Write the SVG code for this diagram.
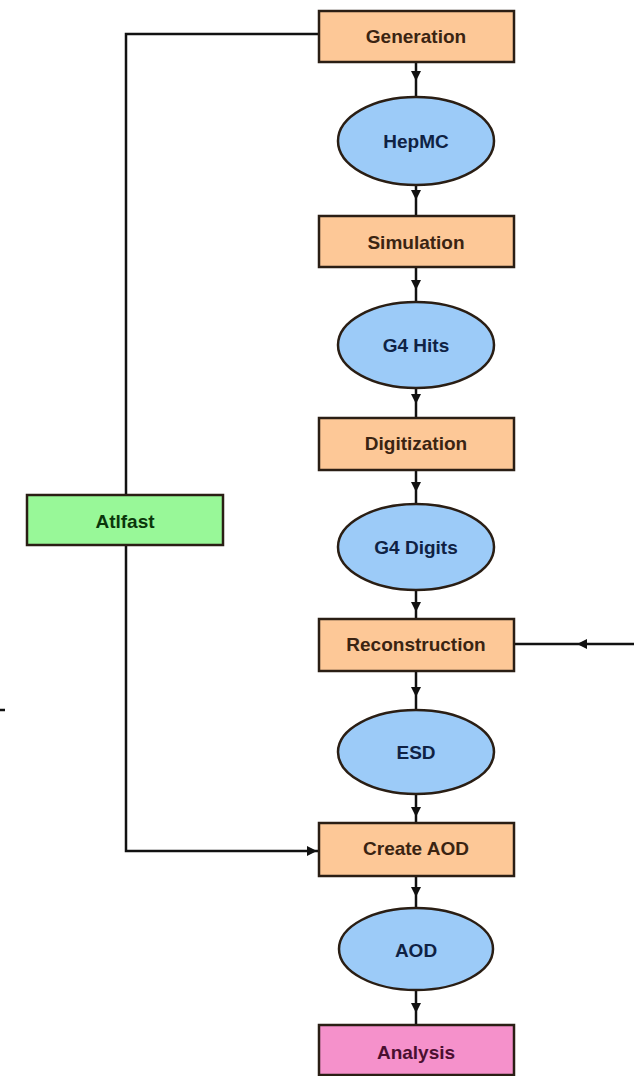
<svg xmlns="http://www.w3.org/2000/svg" width="634" height="1076" viewBox="0 0 634 1076">
<defs>
<marker id="ah" viewBox="0 0 10 10" refX="10" refY="5" markerWidth="12" markerHeight="10" markerUnits="userSpaceOnUse" orient="auto">
<path d="M0,0 L10,5 L0,10 z" fill="#111"/>
</marker>
<style>
.box{stroke:#2a1e14;stroke-width:2.5}
.step{fill:#FDC897}
.data{fill:#9CCBF8}
.fast{fill:#98F898}
.ana{fill:#F591CB}
text{font-family:"Liberation Sans",Arial,sans-serif;font-weight:bold;font-size:19px;text-anchor:middle;dominant-baseline:central}
.ts{fill:#3a2412}
.td{fill:#0f2244}
.tf{fill:#0b360b}
.ta{fill:#4a0f30}
.c{fill:none;stroke:#111;stroke-width:2.5;marker-mid:url(#ah)}
.p{fill:none;stroke:#111;stroke-width:2.5}
</style>
</defs>
<rect width="634" height="1076" fill="#fff"/>
<g id="connectors">
<path class="c" d="M416,62 L416,81 L416,97"/>
<path class="c" d="M416,185 L416,200 L416,216"/>
<path class="c" d="M416,267 L416,290 L416,303"/>
<path class="c" d="M416,388 L416,404 L416,418"/>
<path class="c" d="M416,470 L416,492 L416,505"/>
<path class="c" d="M416,590 L416,612 L416,619"/>
<path class="c" d="M416,671 L416,697 L416,710"/>
<path class="c" d="M416,794 L416,817 L416,823"/>
<path class="c" d="M416,876 L416,897 L416,908"/>
<path class="c" d="M416,990 L416,1013 L416,1025"/>
<path class="p" d="M126,495 L126,34 L319,34"/>
<path class="p" d="M126,545 L126,851 L200,851"/>
<path class="c" d="M200,851 L317,851 L319,851"/>
<path class="c" d="M634,644 L577,644 L514,644"/>
<path class="p" d="M0,710 L5,710"/>
</g>
<g id="generation"><rect class="box step" x="319" y="11" width="195" height="51"/><text class="ts" x="416" y="36">Generation</text></g>
<g id="hepmc"><ellipse class="box data" cx="416" cy="141" rx="78" ry="44"/><text class="td" x="416" y="141">HepMC</text></g>
<g id="simulation"><rect class="box step" x="319" y="216" width="195" height="51"/><text class="ts" x="416" y="242">Simulation</text></g>
<g id="g4hits"><ellipse class="box data" cx="416" cy="345" rx="78" ry="43"/><text class="td" x="416" y="345">G4 Hits</text></g>
<g id="digitization"><rect class="box step" x="319" y="418" width="195" height="52"/><text class="ts" x="416" y="443">Digitization</text></g>
<g id="g4digits"><ellipse class="box data" cx="416" cy="547" rx="78" ry="43"/><text class="td" x="416" y="547">G4 Digits</text></g>
<g id="reconstruction"><rect class="box step" x="319" y="619" width="195" height="52"/><text class="ts" x="416" y="644">Reconstruction</text></g>
<g id="esd"><ellipse class="box data" cx="416" cy="752" rx="78" ry="42"/><text class="td" x="416" y="752">ESD</text></g>
<g id="createaod"><rect class="box step" x="319" y="823" width="195" height="53"/><text class="ts" x="416" y="848">Create AOD</text></g>
<g id="aod"><ellipse class="box data" cx="416" cy="949" rx="77" ry="41"/><text class="td" x="416" y="950">AOD</text></g>
<g id="analysis"><rect class="box ana" x="319" y="1025" width="195" height="50"/><text class="ta" x="416" y="1052">Analysis</text></g>
<g id="atlfast"><rect class="box fast" x="27" y="495" width="196" height="50"/><text class="tf" x="125" y="521">Atlfast</text></g>
</svg>
